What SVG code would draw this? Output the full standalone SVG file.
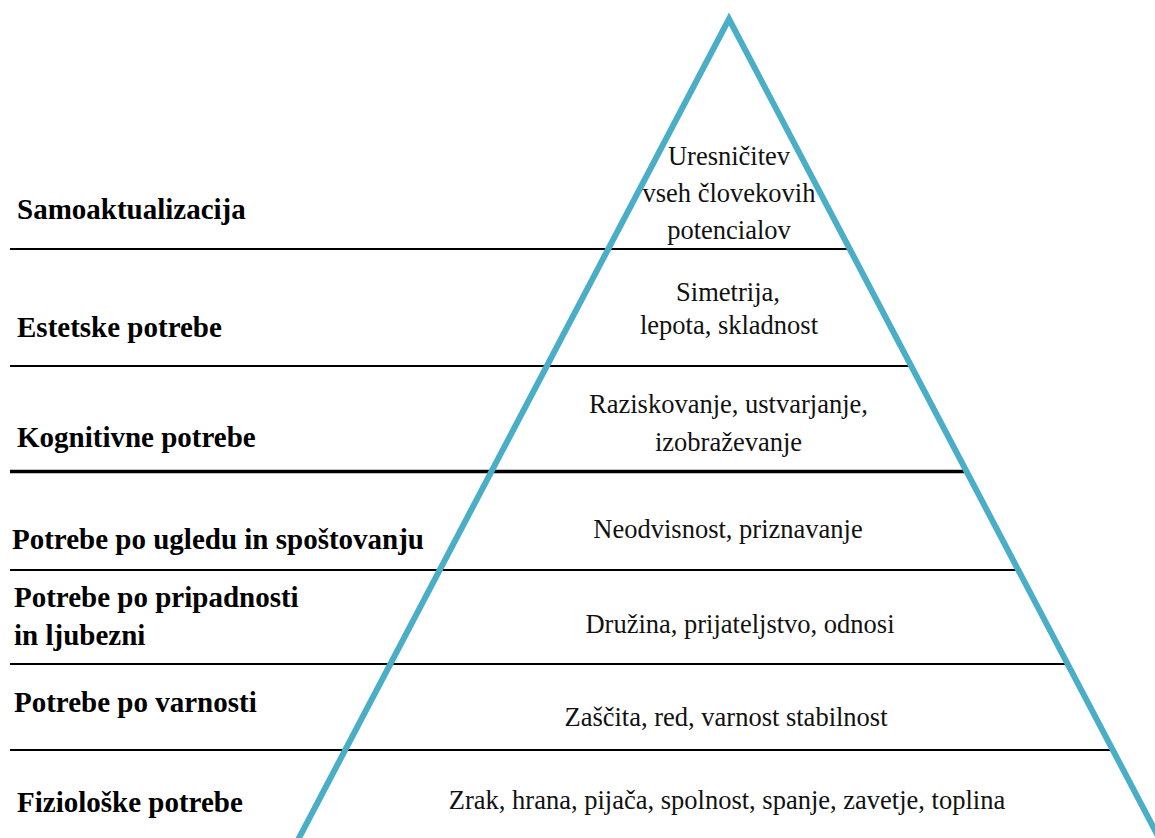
<svg xmlns="http://www.w3.org/2000/svg" width="1155" height="838" viewBox="0 0 1155 838">
<style>
.lbl{font-family:"Liberation Serif","Times New Roman",serif;font-weight:bold;font-size:29px;fill:#000}
.txt{font-family:"Liberation Serif","Times New Roman",serif;font-size:26.5px;fill:#111;text-anchor:middle}
.sep{stroke:#000;stroke-width:2}
</style>
<rect width="1155" height="838" fill="#fff"/>
<g id="connectors">
<line class="sep" x1="10" y1="249" x2="849" y2="249"/>
<line class="sep" x1="10" y1="366" x2="911" y2="366"/>
<line class="sep" x1="10" y1="471.5" x2="966" y2="471.5" style="stroke-width:3.5"/>
<line class="sep" x1="10" y1="570" x2="1018" y2="570"/>
<line class="sep" x1="10" y1="664" x2="1068" y2="664"/>
<line class="sep" x1="10" y1="750" x2="1113" y2="750"/>
</g>
<g id="pyramid">
<polyline points="292.7,850 729,19 1165.3,850" fill="none" stroke="#4AAEC7" stroke-width="6" stroke-linejoin="miter" stroke-miterlimit="10"/>
</g>
<g id="level-samoaktualizacija">
<text class="lbl" x="17" y="219">Samoaktualizacija</text>
<text class="txt" x="729" y="165">Uresničitev</text>
<text class="txt" x="729" y="202">vseh človekovih</text>
<text class="txt" x="729" y="239">potencialov</text>
</g>
<g id="level-estetske">
<text class="lbl" x="17" y="337">Estetske potrebe</text>
<text class="txt" x="728" y="301">Simetrija,</text>
<text class="txt" x="729" y="334">lepota, skladnost</text>
</g>
<g id="level-kognitivne">
<text class="lbl" x="17" y="447">Kognitivne potrebe</text>
<text class="txt" x="728.5" y="413">Raziskovanje, ustvarjanje,</text>
<text class="txt" x="728.5" y="451">izobraževanje</text>
</g>
<g id="level-ugled">
<text class="lbl" x="12" y="549">Potrebe po ugledu in spoštovanju</text>
<text class="txt" x="728" y="538">Neodvisnost, priznavanje</text>
</g>
<g id="level-pripadnost">
<text class="lbl" x="14" y="607">Potrebe po pripadnosti</text>
<text class="lbl" x="14" y="645">in ljubezni</text>
<text class="txt" x="740" y="633">Družina, prijateljstvo, odnosi</text>
</g>
<g id="level-varnost">
<text class="lbl" x="14" y="712">Potrebe po varnosti</text>
<text class="txt" x="726" y="726">Zaščita, red, varnost stabilnost</text>
</g>
<g id="level-fizioloske">
<text class="lbl" x="17" y="812">Fiziološke potrebe</text>
<text class="txt" x="727" y="809">Zrak, hrana, pijača, spolnost, spanje, zavetje, toplina</text>
</g>
</svg>
